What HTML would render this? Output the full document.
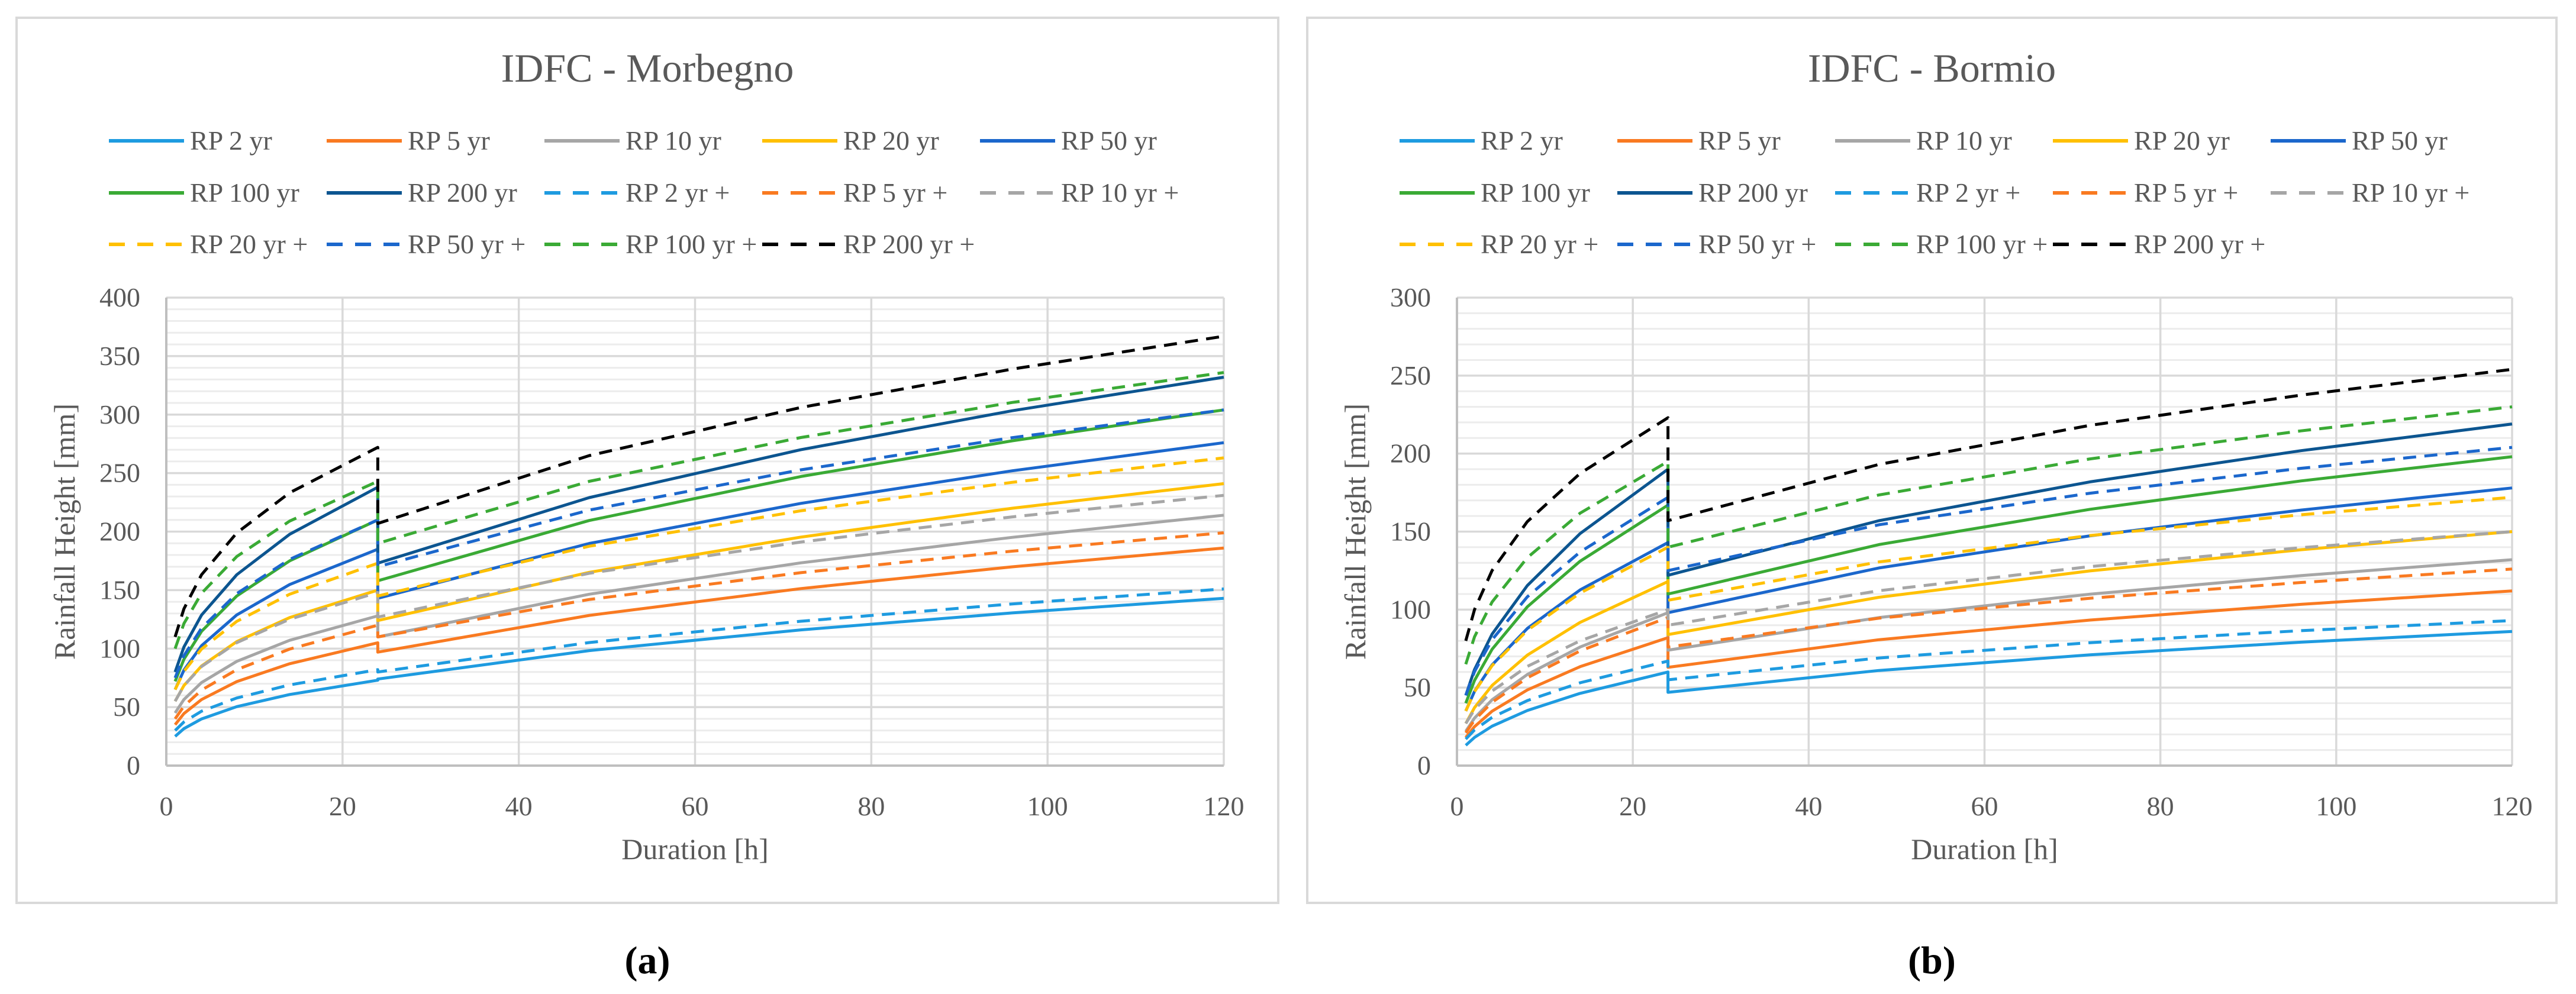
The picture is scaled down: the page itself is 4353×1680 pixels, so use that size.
<!DOCTYPE html>
<html><head><meta charset="utf-8">
<style>
html,body{margin:0;padding:0;background:#fff;}
svg{display:block;}
text{font-family:"Liberation Serif",serif;fill:#595959;}
</style></head>
<body>
<svg id="fig" width="4353" height="1680" viewBox="0 0 4353 1680" xmlns="http://www.w3.org/2000/svg"></svg>
<script>
// Shared durations (h): segment up to 24h, then segment from 24h to 120h
const durations = [1,2,4,8,14,24,24,48,72,96,120];
const seriesNames = ["RP 2 yr","RP 5 yr","RP 10 yr","RP 20 yr","RP 50 yr","RP 100 yr","RP 200 yr","RP 2 yr +","RP 5 yr +","RP 10 yr +","RP 20 yr +","RP 50 yr +","RP 100 yr +","RP 200 yr +"];
const xTicks = [0,20,40,60,80,100,120];
const yTicksMorbegno = [0,50,100,150,200,250,300,350,400];
const yTicksBormio = [0,50,100,150,200,250,300];

// Morbegno
const morRP2    = [25,31.6,39.9,50.4,60.8,73, 74,98.3,116,130.5,143];
const morRP5    = [35,44.5,56.5,71.8,87.1,105, 97,128.4,151.3,169.9,186];
const morRP10   = [45,56.5,71,89.1,107.1,128, 110,146.5,173.3,195.1,214];
const morRP20   = [55,68.4,85.2,106,126.5,150, 124,165.2,195.3,220,241];
const morRP50   = [65,81.6,102.5,128.8,154.8,185, 143,189.9,224.1,252,276];
const morRP100  = [72,90.9,114.8,145,175,210, 158,209.5,247.1,277.6,304];
const morRP200  = [80,101.4,128.7,163.2,197.7,238, 173,229.1,270,303.3,332];
const morRP2p   = [30,37.3,46.5,57.8,69,82, 80,105.2,123.4,138.2,151];
const morRP5p   = [40,50.8,64.6,82,99.6,120, 110,142,164.9,183.3,199];
const morRP10p  = [55,68.3,84.7,105.1,125.1,148, 127,164.4,191.1,212.6,231];
const morRP20p  = [65,80.5,99.6,123.3,146.5,173, 145,187.5,217.8,242.1,263];
const morRP50p  = [75,93.9,117.5,147,176.3,210, 170,218.4,252.8,280.3,304];
const morRP100p = [100,121.4,147.3,178.7,209,243, 190,243,280.4,310.4,336];
const morRP200p = [110,134,163.2,198.9,233.2,272, 207,265,306.1,338.9,367];

// Bormio
const borRP2    = [13,18.1,25.3,35.3,46.3,60, 47,61,71,79.1,86];
const borRP5    = [18,25,34.9,48.5,63.4,82, 63,80.7,93.3,103.4,112];
const borRP10   = [22,30.5,42.2,58.4,76,98, 74,94.9,109.9,121.8,132];
const borRP20   = [27,37.2,51.4,70.8,91.8,118, 84,107.9,124.8,138.4,150];
const borRP50   = [35,47.6,64.6,87.9,112.6,143, 98,126.7,147.3,163.8,178];
const borRP100  = [40,54.6,74.6,101.8,131,167, 110,141.7,164.3,182.5,198];
const borRP200  = [45,61.6,84.3,115.4,148.7,190, 122,157,181.9,201.9,219];
const borRP2p   = [17,22.9,30.9,41.7,53.1,67, 55,69,78.8,86.5,93];
const borRP5p   = [21,29.2,40.6,56.3,73.5,95, 76,94.5,107.3,117.4,126];
const borRP10p  = [27,35.9,47.8,63.6,80,100, 90,112.1,127.6,139.7,150];
const borRP20p  = [35,47.4,64.1,86.7,110.6,140, 106,130.6,147.5,160.8,172];
const borRP50p  = [45,60.3,80.7,108.2,136.9,172, 125,154.4,174.6,190.6,204];
const borRP100p = [65,82.6,104.9,133.3,161.8,195, 140,173.5,196.6,214.6,230];
const borRP200p = [80,100,125.1,156.4,187.3,223, 157,193.1,218.1,237.5,254];

const morSeries = [morRP2,morRP5,morRP10,morRP20,morRP50,morRP100,morRP200,morRP2p,morRP5p,morRP10p,morRP20p,morRP50p,morRP100p,morRP200p];
const borSeries = [borRP2,borRP5,borRP10,borRP20,borRP50,borRP100,borRP200,borRP2p,borRP5p,borRP10p,borRP20p,borRP50p,borRP100p,borRP200p];

const colors = ["#1e9be0","#f97a21","#a6a6a6","#ffc000","#1b67cc","#3aaa35","#0c5590","#1e9be0","#f97a21","#a6a6a6","#ffc000","#1b67cc","#3aaa35","#000000"];

const NS = "http://www.w3.org/2000/svg";
const svg = document.getElementById("fig");
function mk(tag, attrs, parent){
  const e = document.createElementNS(NS, tag);
  for (const k in attrs) e.setAttribute(k, attrs[k]);
  (parent||svg).appendChild(e);
  return e;
}

function drawPanel(ox, slug, title, label, series, yTicks, yMax, plotW){
  const g = mk("g", {});
  
  
  const border = mk("rect", {x:ox, y:30, width:(plotW>1785?2132:2111), height:1496, fill:"#fff", stroke:"#d9d9d9", "stroke-width":4}, g);
  
  
  const bw = +border.getAttribute("width");
  const L = ox + 253, R = L + plotW, T = 503, B = 1294;
  const xs = v => L + v/120*(R-L);
  const ys = v => B - v/yMax*(B-T);

  const t = mk("text", {x: ox + bw/2, y: 138, "text-anchor":"middle", "font-size":68}, g);
  t.textContent = title;
  
  

  // gridlines
  const grid = mk("g", {}, g);
  
  
  for (let v = 10; v < yMax; v += 10) {
    if (v % 50 === 0) continue;
    mk("line", {x1:L, x2:R, y1:ys(v), y2:ys(v), stroke:"#ececec", "stroke-width":3}, grid);
  }
  yTicks.forEach(v => {
    if (v === 0) return;
    mk("line", {x1:L, x2:R, y1:ys(v), y2:ys(v), stroke:"#d9d9d9", "stroke-width":3.5}, grid);
  });
  xTicks.forEach(v => {
    if (v === 0) return;
    mk("line", {x1:xs(v), x2:xs(v), y1:T, y2:B, stroke:"#d9d9d9", "stroke-width":3.5}, grid);
  });
  mk("line", {x1:L, x2:L, y1:T, y2:B, stroke:"#bfbfbf", "stroke-width":4}, grid);
  mk("line", {x1:L, x2:R, y1:B, y2:B, stroke:"#bfbfbf", "stroke-width":4}, grid);

  yTicks.forEach(v => {
    const tx = mk("text", {x: L-44, y: ys(v)+15, "text-anchor":"end", "font-size":46}, g);
    tx.textContent = v;
    
    
  });
  xTicks.forEach(v => {
    const tx = mk("text", {x: xs(v), y: 1378, "text-anchor":"middle", "font-size":46}, g);
    tx.textContent = v;
    
    
  });
  const xt = mk("text", {x:(L+R)/2, y:1452, "text-anchor":"middle", "font-size":50}, g);
  xt.textContent = "Duration [h]";
  
  
  const yt = mk("text", {x:0, y:0, "text-anchor":"middle", "font-size":50, transform:`translate(${ox+98},${(T+B)/2}) rotate(-90)`}, g);
  yt.textContent = "Rainfall Height [mm]";
  
  

  // series lines
  series.forEach((vals, i) => {
    const pts = vals.map((v, j) => xs(durations[j]).toFixed(1) + "," + ys(v).toFixed(1)).join(" ");
    const p = mk("polyline", {points: pts, fill:"none", stroke: colors[i], "stroke-width":5, "stroke-linejoin":"round"}, g);
    if (i >= 7) p.setAttribute("stroke-dasharray", "22 14");
    
    
  });

  // legend
  const lg = mk("g", {}, g);
  
  
  const rowsY = [238, 326, 413];
  seriesNames.forEach((n, i) => {
    const r = Math.floor(i/5), c = i % 5;
    const lx = ox + 156 + c*368, ly = rowsY[r];
    const eg = mk("g", {}, lg);
    
    
    const ln = mk("line", {x1:lx, x2:lx+127, y1:ly, y2:ly, stroke:colors[i], "stroke-width":6}, eg);
    if (i >= 7) ln.setAttribute("stroke-dasharray", "27 21");
    const tx = mk("text", {x:lx+137, y:ly+15, "font-size":46}, eg);
    tx.textContent = n;
  });

  const lab = mk("text", {x: ox + bw/2, y: 1645, "text-anchor":"middle", "font-size":66, "font-weight":"bold"}, g);
  lab.setAttribute("style", "fill:#000");
  lab.textContent = label;
  
  
}

drawPanel(28, "morbegno", "IDFC - Morbegno", "(a)", morSeries, yTicksMorbegno, 400, 1787);
drawPanel(2209, "bormio", "IDFC - Bormio", "(b)", borSeries, yTicksBormio, 300, 1783);
</script>
</body></html>
